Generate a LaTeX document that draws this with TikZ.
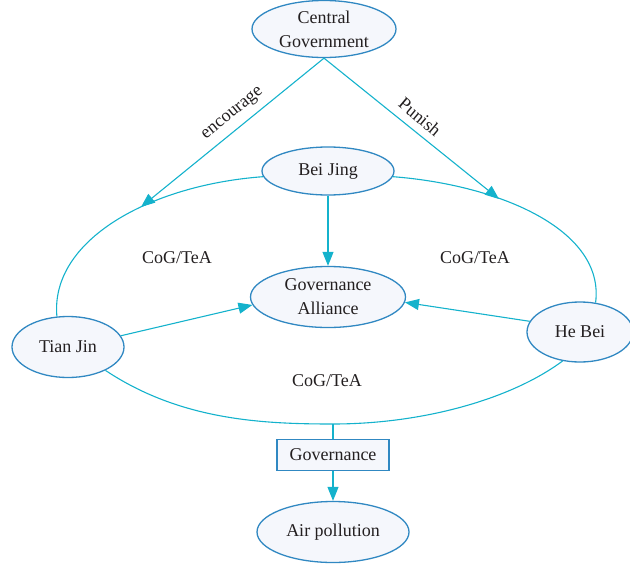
\documentclass[tikz,border=0pt]{standalone}
\usepackage{fontspec}
\setmainfont{Liberation Serif}
\usetikzlibrary{arrows.meta,shapes.geometric}
\definecolor{conncol}{HTML}{14B2CC}
\definecolor{nodeborder}{HTML}{3088C2}
\definecolor{nodefill}{HTML}{F5F7FC}
\definecolor{txtcol}{HTML}{231F20}
\begin{document}
\begin{tikzpicture}[x=1pt,y=-1pt,
  font=\fontsize{18}{24}\selectfont,
  ell/.style={ellipse, draw=nodeborder, fill=nodefill, line width=1.3pt, inner sep=0pt, text=txtcol, align=center},
  boxnode/.style={rectangle, draw=nodeborder, fill=nodefill, line width=1.1pt, inner sep=0pt, text=txtcol},
  link/.style={draw=conncol, line width=1.1pt},
  arr/.style={link, -{Triangle[length=14pt,width=11pt]}},
  lbl/.style={text=txtcol, inner sep=0pt}]
\useasboundingbox (0,0) rectangle (630,565);

% nodes
\node[ell, minimum width=144pt, minimum height=57pt] (cg) at (324,29) {Central\\Government};
\node[ell, minimum width=132pt, minimum height=48pt] (bj) at (328,171) {Bei Jing};
\node[ell, minimum width=155pt, minimum height=61pt] (ga) at (328,297) {Governance\\Alliance};
\node[ell, minimum width=106pt, minimum height=60pt] (hb) at (580,332) {He Bei};
\node[ell, minimum width=112pt, minimum height=61pt] (tj) at (68,347) {Tian Jin};
\node[boxnode, minimum width=112pt, minimum height=31pt] (gov) at (333,455) {Governance};
\node[ell, minimum width=152pt, minimum height=61pt] (ap) at (333,532) {Air pollution};

% helper coordinates
\coordinate (bm) at (333,424);
\coordinate (encTip) at (141,207);
\coordinate (punTip) at (499,199);

% arcs
\draw[link] (tj.110) .. controls (50,240) and (150,185) .. (bj.185);
\draw[link] (bj.-5) .. controls (500,185) and (605,230) .. (hb.62);
\draw[link] (tj.-32) .. controls (180,420) and (261,424) .. (bm)
            .. controls (421,424) and (510,400) .. (hb.239);

% arrows
\draw[arr] (cg.south) -- (encTip);
\draw[arr] (cg.south) -- (punTip);
\draw[arr] (bj.south) -- (ga.north);
\draw[arr] (tj.12) -- (ga.186);
\draw[arr] (hb.168) -- (ga.-4);
\draw[link] (bm) -- (gov.north);
\draw[arr] (gov.south) -- (ap.north);

% labels
\node[lbl, rotate=39] (enc) at (233,114) {encourage};
\node[lbl, rotate=-40] (pun) at (420,117) {Punish};
\node[lbl] (l1) at (177,258) {CoG/TeA};
\node[lbl] (l2) at (475,258) {CoG/TeA};
\node[lbl] (l3) at (327,381) {CoG/TeA};
\end{tikzpicture}
\end{document}
